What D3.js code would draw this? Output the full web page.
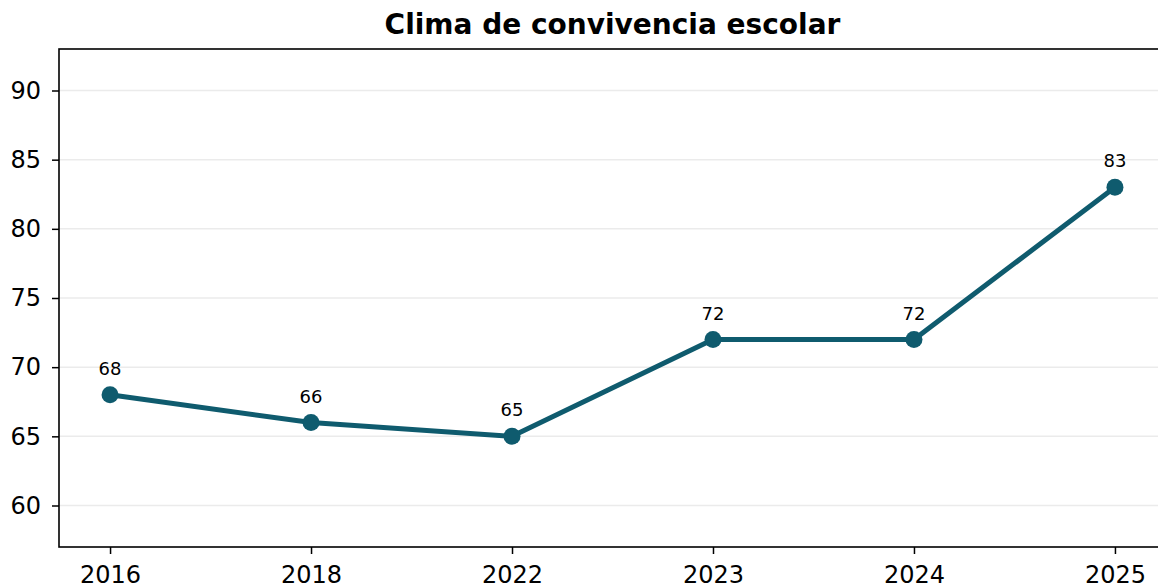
<!DOCTYPE html>
<html><head><meta charset="utf-8">
<script src="https://cdn.jsdelivr.net/npm/d3@7"></script>
<style>body{margin:0;background:#fff;} svg{display:block;}</style>
</head><body>
<svg id="chart" width="1158" height="588"></svg>
<script>
const years = ["2016","2018","2022","2023","2024","2025"];
const values = [68, 66, 65, 72, 72, 83];
const yTicks = [60, 65, 70, 75, 80, 85, 90];
const title = "Clima de convivencia escolar";

const svg = d3.select("#chart");
const L = 59, R = 1166, T = 49, B = 547;
const font = "DejaVu Sans, sans-serif";
const color = "#0f5b6e";

const x = d3.scaleLinear().domain([-0.254, years.length - 1 + 0.254]).range([L, R]);
const y = d3.scaleLinear().domain([57, 93]).range([B, T]);

// grid
svg.append("g").selectAll("line").data(yTicks).join("line")
  .attr("x1", L).attr("x2", R)
  .attr("y1", d => y(d)).attr("y2", d => y(d))
  .attr("stroke", "#ebebeb").attr("stroke-width", 1.5);

// axes
const yAxis = d3.axisLeft(y).tickValues(yTicks).tickSize(7).tickPadding(11);
const gy = svg.append("g").attr("transform", `translate(${L},0)`).call(yAxis);
const xAxis = d3.axisBottom(x).tickValues(d3.range(years.length)).tickFormat(i => years[i]).tickSize(7).tickPadding(12);
const gx = svg.append("g").attr("transform", `translate(0,${B})`).call(xAxis);
[gx, gy].forEach(g => {
  g.select(".domain").remove();
  g.selectAll("line").attr("stroke", "#000").attr("stroke-width", 1.5);
  g.selectAll("text").attr("font-family", font).attr("font-size", 24).attr("fill", "#000");
});

// frame
svg.append("rect").attr("x", L).attr("y", T).attr("width", R - L).attr("height", B - T)
  .attr("fill", "none").attr("stroke", "#000").attr("stroke-width", 1.6);

// line
const line = d3.line().x((d, i) => x(i)).y(d => y(d));
svg.append("path").datum(values).attr("d", line)
  .attr("fill", "none").attr("stroke", color).attr("stroke-width", 5).attr("stroke-linejoin", "round");
svg.append("g").selectAll("circle").data(values).join("circle")
  .attr("cx", (d, i) => x(i)).attr("cy", d => y(d)).attr("r", 8.5).attr("fill", color);

// labels
svg.append("g").selectAll("text").data(values).join("text")
  .attr("x", (d, i) => x(i)).attr("y", d => y(d) - 20)
  .attr("text-anchor", "middle").attr("font-family", font).attr("font-size", 18)
  .attr("fill", "#000").text(d => d);

// title
svg.append("text").attr("x", (L + R) / 2).attr("y", 34).attr("text-anchor", "middle")
  .attr("font-family", font).attr("font-size", 28).attr("font-weight", "bold").text(title);
</script>
</body></html>
